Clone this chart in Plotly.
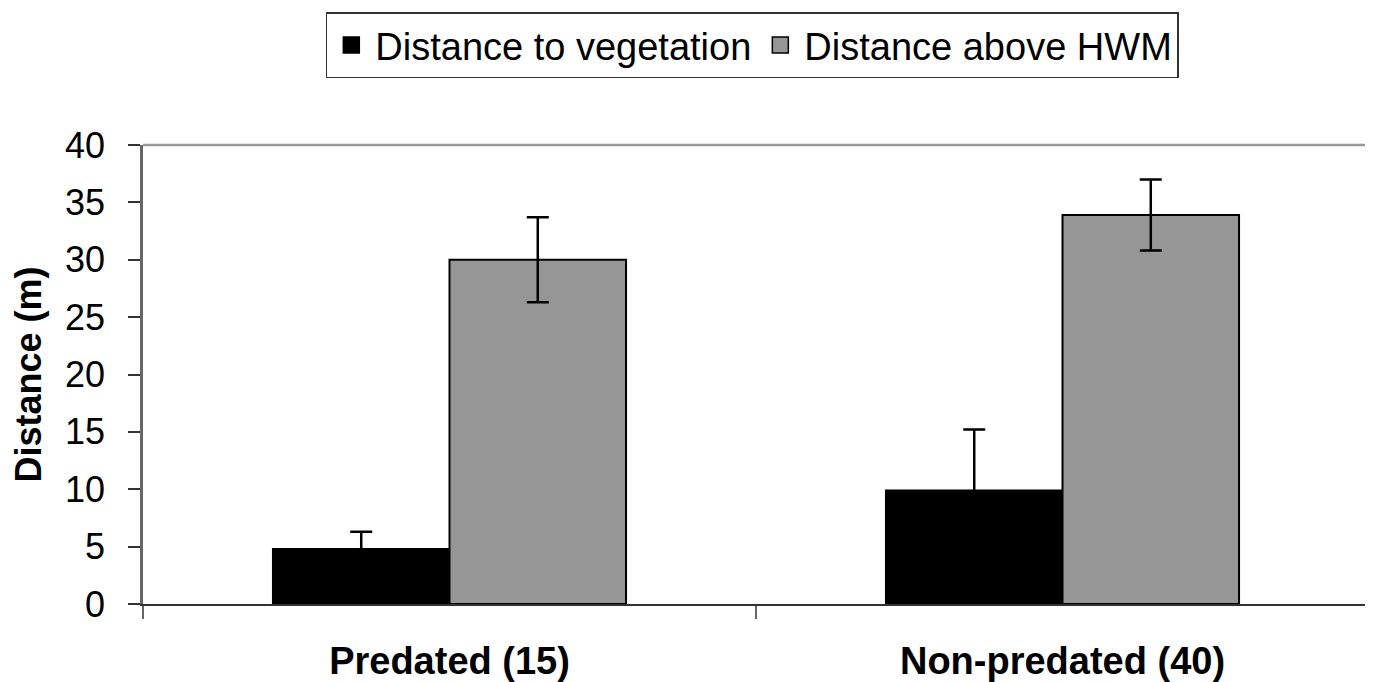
import plotly.graph_objects as go

categories = ["Predated (15)", "Non-predated (40)"]
series_names = ["Distance to vegetation", "Distance above HWM"]
veg_values = [4.8, 9.9]
veg_errors = [1.5, 5.3]
hwm_values = [30.0, 33.9]
hwm_errors = [3.7, 3.1]
y_ticks = [0, 5, 10, 15, 20, 25, 30, 35, 40]

colors = ["#000000", "#969696"]
FONT = "Liberation Sans, Arial, sans-serif"

fig = go.Figure()
for name, vals, errs, col in zip(series_names, [veg_values, hwm_values],
                                 [veg_errors, hwm_errors], colors):
    fig.add_trace(go.Bar(
        x=categories, y=vals, name=name, showlegend=False,
        marker=dict(color=col, line=dict(color="#000000", width=2)),
        error_y=dict(type="data", array=errs, visible=True,
                     color="#000000", thickness=2.5, width=11),
    ))
# legend entries with larger square symbols
for name, col in zip(series_names, colors):
    fig.add_trace(go.Scatter(
        x=[None], y=[None], mode="markers", name=name,
        marker=dict(symbol="square", size=16, color=col,
                    line=dict(color="#000000", width=1.5)),
    ))

fig.update_layout(
    width=1365, height=674,
    margin=dict(l=135, r=4, t=135, b=78),
    paper_bgcolor="white", plot_bgcolor="white",
    barmode="group", bargap=0.424, bargroupgap=0,
    font=dict(family=FONT, color="#000000", size=36),
    legend=dict(
        orientation="h", x=0.497, xanchor="center", y=1.289, yanchor="top",
        bordercolor="#333333", borderwidth=1.5, bgcolor="white",
        font=dict(size=38, family=FONT), itemwidth=38,
    ),
    xaxis=dict(
        type="category", tickson="boundaries", ticks="outside", ticklen=13,
        tickcolor="#666666", tickwidth=2, showline=True, linecolor="#333333",
        linewidth=2, showgrid=False, zeroline=False, automargin=False,
        tickfont=dict(size=38, family=FONT, color="#000000", weight="bold"),
        ticklabelstandoff=22,
    ),
    yaxis=dict(
        range=[0, 40], tickvals=y_ticks, ticks="outside", ticklen=12,
        tickcolor="#333333", tickwidth=1.5, showline=True, linecolor="#666666",
        linewidth=2.5, showgrid=False, zeroline=False, automargin=False,
        tickfont=dict(size=36, family=FONT, color="#000000"),
        ticklabelstandoff=16,
        title=dict(text="<b>Distance (m)</b>", font=dict(size=36, family=FONT),
                   standoff=24),
    ),
    shapes=[
        dict(type="line", xref="x domain", yref="y domain", x0=0, x1=1, y0=1, y1=1,
             line=dict(color="#999999", width=2.5)),
        dict(type="line", xref="x domain", yref="y domain", x0=1, x1=1, y0=0, y1=1,
             line=dict(color="#999999", width=2.5)),
    ],
)

fig.write_html("out.html")
